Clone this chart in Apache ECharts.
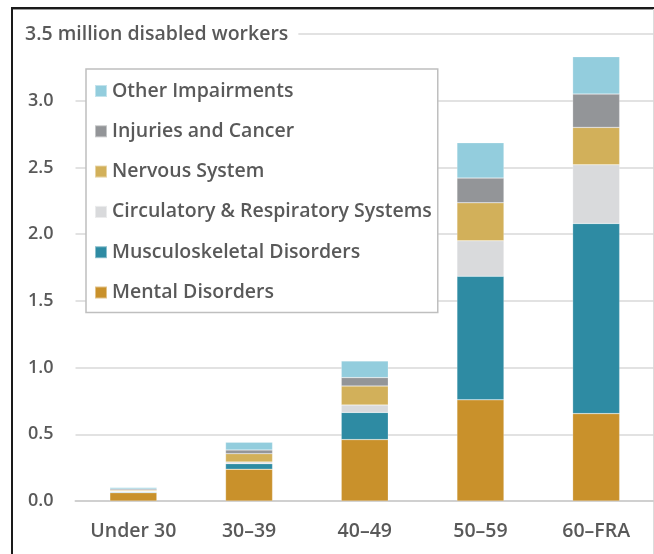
<!DOCTYPE html>
<html>
<head>
<meta charset="utf-8">
<script src="https://cdn.jsdelivr.net/npm/echarts@6/dist/echarts.min.js"></script>
<style>
html,body{margin:0;padding:0;background:#fff;}
#chart{width:654px;height:554px;}
</style>
</head>
<body>
<div id="chart"></div>
<script>
const categories = ['Under 30', '30–39', '40–49', '50–59', '60–FRA'];
const mental = [0.062, 0.238, 0.46, 0.758, 0.655];
const musculoskeletal = [0.006, 0.042, 0.204, 0.926, 1.425];
const circulatory = [0.006, 0.013, 0.056, 0.266, 0.44];
const nervous = [0.007, 0.062, 0.142, 0.285, 0.28];
const injuries = [0.008, 0.028, 0.063, 0.185, 0.25];
const other = [0.012, 0.057, 0.125, 0.265, 0.28];
const seriesNames = ['Mental Disorders', 'Musculoskeletal Disorders', 'Circulatory & Respiratory Systems', 'Nervous System', 'Injuries and Cancer', 'Other Impairments'];
const seriesData = [mental, musculoskeletal, circulatory, nervous, injuries, other];
const colors = ['#C9912B', '#2E8BA3', '#D9DADC', '#D2B05A', '#939598', '#93CDDD'];
const yMin = 0, yMax = 3.5, yStep = 0.5;
const titleText = '3.5 million disabled workers';

const FONT = 'Open Sans';
const TXT = '#595959';

const chart = echarts.init(document.getElementById('chart'));
chart.setOption({
  animation: false,
  backgroundColor: '#fff',
  title: {
    text: titleText,
    left: 22,
    top: 22,
    padding: [2, 10, 2, 3],
    backgroundColor: '#fff',
    textStyle: { fontFamily: FONT, fontSize: 19.5, fontWeight: 600, color: TXT, lineHeight: 20 }
  },
  legend: {
    orient: 'vertical',
    left: 86,
    top: 69,
    data: seriesNames.slice().reverse(),
    itemWidth: 12,
    itemHeight: 12,
    itemGap: 20.3,
    padding: [12, 6, 10, 8],
    backgroundColor: '#fff',
    borderColor: '#BFBFBF',
    borderWidth: 1.5,
    icon: 'rect',
    textStyle: { fontFamily: FONT, fontSize: 19.5, fontWeight: 600, color: TXT }
  },
  grid: { left: 75.5, width: 580, top: 34, bottom: 53, containLabel: false },
  xAxis: {
    type: 'category',
    data: categories,
    axisLine: { show: true, lineStyle: { color: '#D0D0D0', width: 2 } },
    axisTick: { show: false },
    axisLabel: { fontFamily: FONT, fontSize: 19.5, fontWeight: 600, color: TXT, margin: 20 }
  },
  yAxis: {
    type: 'value',
    min: yMin, max: yMax, interval: yStep,
    axisLine: { show: false },
    axisTick: { show: false },
    splitLine: { lineStyle: { color: '#D9D9D9', width: 1.5 } },
    axisLabel: {
      fontFamily: FONT, fontSize: 18, fontWeight: 600, color: TXT, margin: 22,
      formatter: v => (v === yMax ? '' : v.toFixed(1))
    }
  },
  series: seriesNames.map((name, i) => ({
    name: name,
    type: 'bar',
    stack: 'total',
    barWidth: 47,
    data: seriesData[i],
    itemStyle: { color: colors[i], borderColor: 'rgba(255,255,255,0.45)', borderWidth: 0.5 }
  })),
  graphic: [
    { type: 'line', shape: { x1: 12, y1: 8, x2: 12, y2: 560 }, style: { stroke: '#1a1a1a', lineWidth: 2 } },
    { type: 'line', shape: { x1: 11, y1: 8, x2: 660, y2: 8 }, style: { stroke: '#1a1a1a', lineWidth: 2 } },
    { type: 'line', shape: { x1: 13, y1: 9.5, x2: 660, y2: 9.5 }, style: { stroke: '#9a9a9a', lineWidth: 1 } },
    { type: 'line', shape: { x1: 653.5, y1: 9, x2: 653.5, y2: 560 }, style: { stroke: '#dcdcdc', lineWidth: 1 } }
  ]
});
</script>
</body>
</html>
